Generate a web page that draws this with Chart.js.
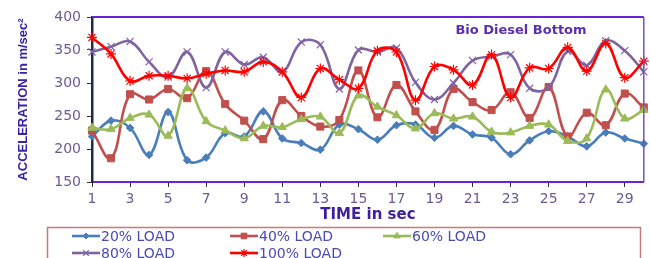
<!DOCTYPE html>
<html>
<head>
<meta charset="utf-8">
<script src="https://cdn.jsdelivr.net/npm/chart.js@4.4.1/dist/chart.umd.min.js"></script>
<style>
  html, body { margin: 0; padding: 0; background: #ffffff; }
  #wrap { width: 650px; height: 258px; position: relative; }
</style>
</head>
<body>
<div id="wrap"><canvas id="c" width="650" height="258"></canvas></div>
<script>
const timeLabels = ['1','2','3','4','5','6','7','8','9','10','11','12','13','14','15','16','17','18','19','20','21','22','23','24','25','26','27','28','29','30'];
const load20  = [219, 243, 232, 191, 256, 183, 187, 224, 219, 257, 216, 209, 199, 237, 230, 214, 236, 237, 217, 235, 222, 217, 192, 213, 227, 219, 204, 225, 216, 208];
const load40  = [228, 186, 283, 275, 291, 277, 318, 268, 243, 215, 274, 250, 234, 244, 319, 248, 297, 257, 229, 291, 271, 259, 286, 247, 294, 219, 255, 236, 284, 263];
const load60  = [232, 230, 247, 252, 220, 292, 242, 228, 216, 235, 233, 245, 249, 224, 281, 264, 251, 231, 254, 246, 249, 226, 225, 235, 237, 212, 216, 290, 246, 259];
const load80  = [347, 355, 363, 332, 309, 347, 293, 347, 328, 339, 317, 362, 358, 291, 350, 347, 353, 301, 275, 300, 334, 340, 343, 292, 293, 348, 327, 364, 349, 317];
const load100 = [369, 344, 303, 311, 311, 307, 314, 319, 317, 332, 317, 278, 322, 305, 292, 349, 347, 274, 325, 320, 297, 343, 278, 323, 322, 354, 318, 360, 308, 333];
const seriesNames = ['20% LOAD', '40% LOAD', '60% LOAD', '80% LOAD', '100% LOAD'];
const yTicks = [150, 200, 250, 300, 350, 400];

const chartTitle = 'Bio Diesel Bottom';

function ds(label, data, color, style, radius, order, bw) {
  return {
    label, data,
    borderColor: color, backgroundColor: color,
    pointBackgroundColor: color, pointBorderColor: color,
    pointStyle: style, pointRadius: radius, pointHoverRadius: radius,
    pointBorderWidth: bw || 1,
    borderWidth: 2.6, tension: 0.4, fill: false, clip: false, order
  };
}

const frame = {
  id: 'frame',
  beforeDraw(chart) {
    const c = chart.ctx;
    c.save();
    c.fillStyle = '#ffffff';
    c.fillRect(0, 0, chart.width, chart.height);
    c.restore();
  },
  afterDatasetsDraw(chart) {
    const c = chart.ctx, a = chart.chartArea;
    c.save();
    c.strokeStyle = '#6a22d8';
    c.lineWidth = 2;
    c.beginPath();
    c.moveTo(a.left, a.top); c.lineTo(a.right, a.top);
    c.stroke();
    c.lineWidth = 1.5;
    c.strokeStyle = '#7a4cc8';
    c.beginPath();
    c.moveTo(a.right, a.top); c.lineTo(a.right, a.bottom);
    c.stroke();
    // chart title inside plot
    c.font = 'bold 13px "DejaVu Sans"';
    c.fillStyle = '#5a2fae';
    c.textAlign = 'center';
    c.textBaseline = 'middle';
    c.fillText(chartTitle, 521, 31);
    c.restore();
  },
  afterDraw(chart) {
    const c = chart.ctx;
    c.save();
    c.strokeStyle = '#c97a7a';
    c.lineWidth = 1.5;
    c.strokeRect(47.5, 227.5, 593, 40);
    const pos = [[72, 236], [230, 236], [383, 236], [72, 253], [230, 253]];
    chart.data.datasets.forEach((d, i) => {
      const [x, y] = pos[i];
      c.strokeStyle = d.borderColor;
      c.lineWidth = 2.6;
      c.beginPath();
      c.moveTo(x, y); c.lineTo(x + 28, y);
      c.stroke();
      c.fillStyle = d.pointBackgroundColor;
      c.strokeStyle = d.pointBorderColor;
      c.lineWidth = d.pointBorderWidth;
      Chart.helpers.drawPoint(c, { pointStyle: d.pointStyle, radius: d.pointRadius * 0.8, rotation: 0, borderWidth: d.pointBorderWidth }, x + 14, y);
      c.font = '14px "DejaVu Sans"';
      c.fillStyle = '#4b4bb0';
      c.textAlign = 'left';
      c.textBaseline = 'middle';
      c.fillText(d.label, x + 29, y + 1);
    });
    c.restore();
  }
};

new Chart(document.getElementById('c'), {
  type: 'line',
  data: {
    labels: timeLabels,
    datasets: [
      ds(seriesNames[0], load20, '#4a7ebb', 'rectRot', 3.8, 5),
      ds(seriesNames[1], load40, '#c0504d', 'rect', 5, 4),
      ds(seriesNames[2], load60, '#9bbb59', 'triangle', 4.8, 3),
      ds(seriesNames[3], load80, '#8064a2', 'crossRot', 5, 2, 1.2),
      ds(seriesNames[4], load100, '#ff0000', 'star', 5, 1, 1.2)
    ]
  },
  options: {
    responsive: false,
    animation: false,
    events: [],
    layout: { padding: { top: 17, right: 4, left: 0, bottom: 34 } },
    plugins: { legend: { display: false }, tooltip: { enabled: false }, title: { display: false } },
    scales: {
      x: {
        type: 'category',
        offset: false,
        afterFit(s) { s.height = 42; },
        border: { display: true, color: '#6a22d8', width: 2 },
        grid: {
          drawOnChartArea: false, drawTicks: true, tickLength: 5,
          tickColor: (ctx) => (ctx.index % 2 === 0 ? '#333333' : 'rgba(0,0,0,0)')
        },
        ticks: {
          autoSkip: false, maxRotation: 0, minRotation: 0, padding: 4,
          color: '#6b5a96',
          font: { family: '"DejaVu Sans"', size: 14 },
          callback: (v, i) => (i % 2 === 0 ? timeLabels[i] : '')
        },
        title: {
          display: true, text: 'TIME in sec', color: '#3d1fa0',
          font: { family: '"DejaVu Sans"', size: 15, weight: 'bold' },
          padding: { top: 0, bottom: 0 }
        }
      },
      y: {
        min: 150, max: 400,
        afterFit(s) { s.width = 92; },
        afterBuildTicks(s) { s.ticks = yTicks.map(v => ({ value: v })); },
        border: { display: true, color: '#1e2b4a', width: 2.5 },
        grid: { drawOnChartArea: false, drawTicks: true, tickLength: 5, tickColor: '#333333' },
        ticks: {
          padding: 6, color: '#6b5a96',
          font: { family: '"DejaVu Sans"', size: 14 }
        },
        title: {
          display: true, text: 'ACCELERATION in m/sec²', color: '#3a22a8',
          font: { family: '"Liberation Sans"', size: 13, weight: 'bold' },
          padding: { top: 16, bottom: 0 }
        }
      }
    }
  },
  plugins: [frame]
});
</script>
</body>
</html>
